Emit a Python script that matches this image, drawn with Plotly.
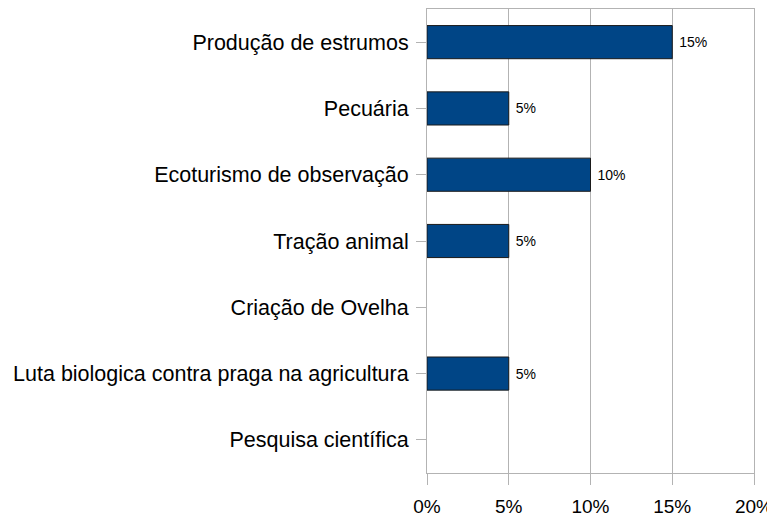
import plotly.graph_objects as go

categories = ["Produção de estrumos", "Pecuária", "Ecoturismo de observação",
              "Tração animal", "Criação de Ovelha",
              "Luta biologica contra praga na agricultura", "Pesquisa científica"]
values = [15, 5, 10, 5, 0, 5, 0]
labels = ["15%", "5%", "10%", "5%", "", "5%", ""]
x_ticks = [0, 5, 10, 15, 20]
x_tick_text = ["0%", "5%", "10%", "15%", "20%"]

# page body has an 8px margin, so figure is 8px smaller than the window
fig = go.Figure(go.Bar(
    y=categories, x=values, orientation="h",
    text=labels, texttemplate=" %{text}", textposition="outside", cliponaxis=False,
    textfont=dict(family="Liberation Sans", size=14, color="black"),
    marker=dict(color="#004586",
                line=dict(color="#1a1a1a", width=[1 if v > 0 else 0 for v in values])),
    width=0.5,
))

fig.update_layout(
    width=767, height=508,
    margin=dict(l=419, r=21, t=1, b=43, autoexpand=False),
    plot_bgcolor="white", paper_bgcolor="white",
    showlegend=False,
    font=dict(family="Liberation Sans", size=21, color="black"),
)
fig.update_xaxes(range=[0, 20], tickvals=x_ticks, ticktext=x_tick_text,
                 showgrid=True, gridcolor="#b3b3b3", gridwidth=1,
                 showline=True, linecolor="#b3b3b3", mirror=True,
                 ticks="outside", ticklen=11, tickcolor="#b3b3b3",
                 ticklabelstandoff=5,
                 tickfont=dict(size=19), zeroline=False, fixedrange=True)
fig.update_yaxes(categoryorder="array", categoryarray=categories,
                 autorange="reversed",
                 showline=True, linecolor="#b3b3b3", mirror=True,
                 ticks="outside", ticklen=10, tickcolor="#b3b3b3",
                 ticklabelstandoff=3,
                 tickfont=dict(size=21.5), showgrid=False, fixedrange=True)

fig.write_html("out.html")
